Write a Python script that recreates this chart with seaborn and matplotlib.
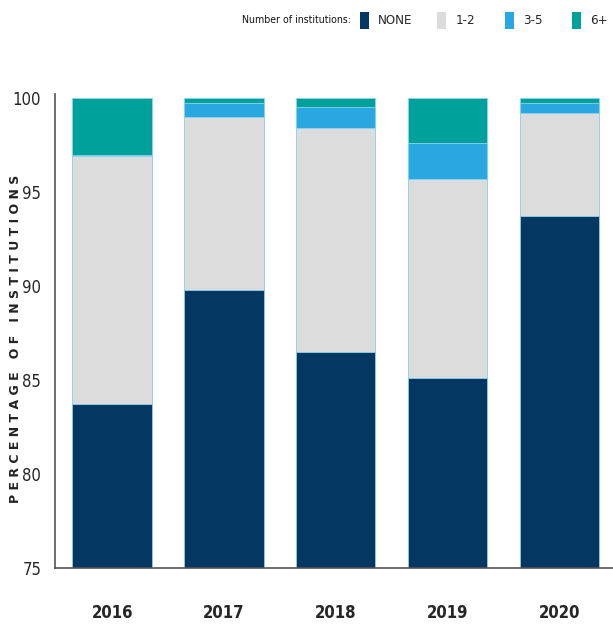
import numpy as np
import pandas as pd
import matplotlib
matplotlib.use('Agg')
import matplotlib.pyplot as plt
import seaborn as sns
from matplotlib.patches import Patch

# datos (porcentaje de instituciones por numero de instituciones)
years = ["2016", "2017", "2018", "2019", "2020"]
none_pct = [83.7, 89.8, 86.5, 85.1, 93.7]
one_two_pct = [13.2, 9.2, 11.9, 10.6, 5.5]
three_five_pct = [0.05, 0.7, 1.1, 1.9, 0.5]
six_plus_pct = [3.05, 0.3, 0.5, 2.4, 0.3]

series_names = ["NONE", "1-2", "3-5", "6+"]
colores = ["#053763", "#dcdcdc", "#29a7e1", "#00a19a"]

df = pd.DataFrame({"Year": years, "NONE": none_pct, "1-2": one_two_pct,
                   "3-5": three_five_pct, "6+": six_plus_pct})
cum = df[series_names].cumsum(axis=1)

sns.set_theme(style="white")
plt.rcParams['font.family'] = ['DejaVu Sans']
plt.rcParams['font.stretch'] = 'condensed'

fig = plt.figure(figsize=(6.13, 6.26), dpi=100)
ax = fig.add_axes([0.09, 0.0927, 0.91, 0.757])

# apilado: dibujar del acumulado mayor al menor
for name, col in reversed(list(zip(series_names, colores))):
    sns.barplot(x=df["Year"], y=cum[name], color=col, width=0.71,
                edgecolor="#8fd3ef", linewidth=0.6, saturation=1, ax=ax)

ax.set_ylim(75, 100.2)
ax.set_xlim(-0.51, 4.48)
ax.set_yticks([75, 80, 85, 90, 95, 100])
ax.set_yticklabels(["75", "80", "85", "90", "95", "100"], fontsize=12)
ax.set_xticks(range(5))
ax.set_xticklabels(years, fontsize=12, fontweight='bold')
ax.set_xticks([0.5, 1.5, 2.5, 3.5], minor=True)
ax.tick_params(axis='x', which='major', length=0, pad=26)
ax.tick_params(axis='x', which='minor', direction='in', length=8, width=0.8, color='#555555')
ax.tick_params(axis='y', direction='in', length=8, width=1.2, color='#555555', pad=10)
ax.set_xlabel("")
ax.set_ylabel("")
fig.text(0.025, 0.458, "P E R C E N T A G E   O F   I N S T I T U T I O N S",
         rotation=90, fontsize=9, fontweight='bold', fontstretch='normal',
         ha='center', va='center', color='#222222')

sns.despine(ax=ax, top=True, right=True)
ax.spines['left'].set_color('#555555')
ax.spines['bottom'].set_color('#555555')
ax.spines['left'].set_linewidth(1.2)
ax.spines['bottom'].set_linewidth(1.2)

# leyenda superior: una entrada por posicion
fig.text(0.395, 0.968, "Number of institutions:", fontsize=7.6, va='center',
         color='#111111')
legend_x = [0.587, 0.713, 0.824, 0.933]
for name, col, lx in zip(series_names, colores, legend_x):
    leg = fig.legend([Patch(facecolor=col, edgecolor='none')], [name],
                     loc='center left', bbox_to_anchor=(lx, 0.968), frameon=False,
                     fontsize=9.5, handlelength=0.7, handleheight=1.6,
                     handletextpad=0.7, borderaxespad=0, borderpad=0)

plt.savefig('out.png', dpi=100)
plt.close()
